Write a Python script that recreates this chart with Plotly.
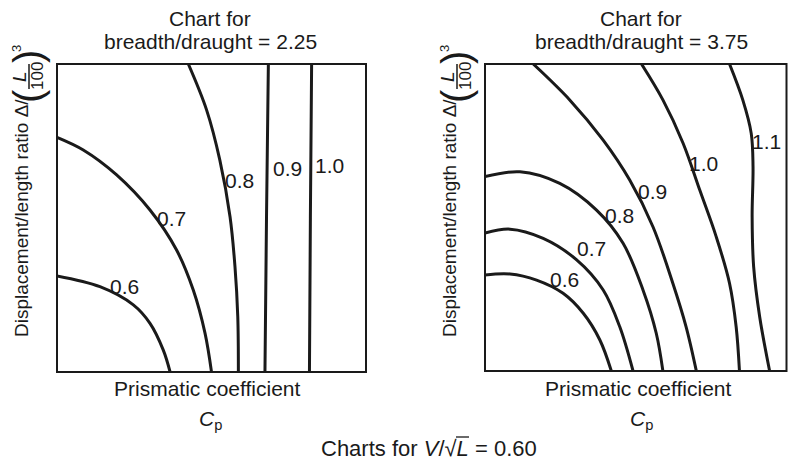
import plotly.graph_objects as go

# Figure size in pixels; layout helpers convert pixel positions to paper fractions
W, H = 788, 463
FONT = "Liberation Sans, Arial, Helvetica, sans-serif"
INK = "#1a1a1a"


def px(x):
    return x / W


def py(y):
    return 1 - y / H


# Contour values (resistance coefficient) and their curves, in normalised
# axis units: x = prismatic coefficient across the chart, y = displacement/length ratio
left_levels = ["0.6", "0.7", "0.8", "0.9", "1.0"]
left_x = [
    [0.0, 0.139, 0.247, 0.301, 0.344, 0.366],
    [0.0, 0.085, 0.193, 0.301, 0.387, 0.441, 0.479, 0.500],
    [0.425, 0.484, 0.527, 0.560, 0.576, 0.585, 0.587],
    [0.684, 0.678, 0.673],
    [0.824, 0.820, 0.817],
]
left_y = [
    [0.312, 0.277, 0.218, 0.158, 0.071, 0.0],
    [0.762, 0.721, 0.640, 0.526, 0.396, 0.266, 0.126, 0.0],
    [1.0, 0.851, 0.688, 0.504, 0.342, 0.180, 0.0],
    [1.0, 0.5, 0.0],
    [1.0, 0.5, 0.0],
]
left_label_x = [0.220, 0.371, 0.592, 0.745, 0.881]
left_label_y = [0.279, 0.499, 0.623, 0.661, 0.669]

right_levels = ["0.6", "0.7", "0.8", "0.9", "1.0", "1.1"]
right_x = [
    [0.0, 0.083, 0.171, 0.259, 0.326, 0.381, 0.419],
    [0.0, 0.083, 0.193, 0.304, 0.392, 0.447, 0.491],
    [0.0, 0.116, 0.248, 0.370, 0.458, 0.524, 0.568, 0.590],
    [0.160, 0.281, 0.392, 0.480, 0.557, 0.623, 0.667, 0.701],
    [0.519, 0.590, 0.657, 0.712, 0.767, 0.811, 0.833, 0.844],
    [0.811, 0.855, 0.883, 0.889, 0.886, 0.891, 0.911, 0.944],
]
right_y = [
    [0.313, 0.316, 0.296, 0.253, 0.188, 0.101, 0.0],
    [0.449, 0.462, 0.432, 0.362, 0.264, 0.144, 0.0],
    [0.633, 0.649, 0.611, 0.524, 0.416, 0.264, 0.123, 0.0],
    [1.0, 0.883, 0.752, 0.622, 0.470, 0.286, 0.144, 0.0],
    [1.0, 0.883, 0.742, 0.590, 0.437, 0.286, 0.144, 0.0],
    [1.0, 0.883, 0.774, 0.666, 0.503, 0.340, 0.177, 0.0],
]
right_label_x = [0.263, 0.353, 0.445, 0.555, 0.725, 0.933]
right_label_y = [0.299, 0.400, 0.508, 0.584, 0.677, 0.747]

titles = ["breadth/draught = 2.25", "breadth/draught = 3.75"]
caption_value = "0.60"

fig = go.Figure()

panels = [
    ("x", "y", left_levels, left_x, left_y, left_label_x, left_label_y),
    ("x2", "y2", right_levels, right_x, right_y, right_label_x, right_label_y),
]

annotations = []
for xa, ya, levels, xs, ys, lx, ly in panels:
    for lev, cx, cy in zip(levels, xs, ys):
        fig.add_trace(go.Scatter(
            x=cx, y=cy, mode="lines", xaxis=xa, yaxis=ya,
            line=dict(color=INK, width=3, shape="spline", smoothing=1.0),
            hoverinfo="skip", showlegend=False, name=lev,
        ))
    for lev, tx, ty in zip(levels, lx, ly):
        annotations.append(dict(
            x=tx, y=ty, xref=xa, yref=ya, text=lev, showarrow=False,
            xanchor="center", yanchor="middle",
            font=dict(family=FONT, size=21, color=INK),
        ))

axis_common = dict(range=[0, 1], showgrid=False, zeroline=False,
                   showticklabels=False, ticks="", showline=False, fixedrange=True)

# Panel frames in pixels: (left, right, top, bottom)
frames = [(57, 366, 64, 372), (485, 786.5, 64, 371)]

fig.update_layout(
    width=W, height=H,
    margin=dict(l=0, r=0, t=0, b=0),
    paper_bgcolor="white", plot_bgcolor="white",
    xaxis=dict(domain=[px(frames[0][0]), px(frames[0][1])], anchor="y", **axis_common),
    yaxis=dict(domain=[py(frames[0][3]), py(frames[0][2])], anchor="x", **axis_common),
    xaxis2=dict(domain=[px(frames[1][0]), px(frames[1][1])], anchor="y2", **axis_common),
    yaxis2=dict(domain=[py(frames[1][3]), py(frames[1][2])], anchor="x2", **axis_common),
)

shapes = []
for xa in ["x", "x2"]:
    ya = "y" if xa == "x" else "y2"
    shapes.append(dict(type="rect", xref=f"{xa} domain", yref=f"{ya} domain",
                       x0=0, x1=1, y0=0, y1=1, line=dict(color=INK, width=2)))


def note(x, y, text, size=21, angle=0):
    annotations.append(dict(
        x=px(x), y=py(y), xref="paper", yref="paper", text=text,
        showarrow=False, xanchor="center", yanchor="middle", textangle=angle,
        font=dict(family=FONT, size=size, color=INK), borderpad=0,
    ))


def rule(x0, y0, x1, y1, width=1.5):
    shapes.append(dict(type="line", xref="paper", yref="paper",
                       x0=px(x0), x1=px(x1), y0=py(y0), y1=py(y1),
                       line=dict(color=INK, width=width)))


title_cx = [210, 641]
for (l, r, t, b), title, cx in zip(frames, titles, title_cx):
    note(cx, 18, "Chart for")
    note(cx, 42, title)
    note(cx - 3, 388, "Prismatic coefficient")
    note(cx, 420, "<i>C</i><sub>p</sub>")

    # Rotated y-axis title: Displacement/length ratio Δ/(L/100)^3
    ox = l - 36
    note(ox, 218, "Displacement/length ratio \u0394/", size=19, angle=-90)
    note(ox + 7, 96, "(", size=40, angle=-90)
    note(ox + 7, 57, ")", size=40, angle=-90)
    note(ox - 1, 77, "<i>L</i>", size=19, angle=-90)
    note(ox + 17, 76, "100", size=17, angle=-90)
    note(ox - 4, 49, "3", size=13, angle=-90)
    rule(ox + 8, 64, ox + 8, 89)

note(429, 448, "Charts for <i>V</i>/\u221a<i>L</i> = " + caption_value, size=22)
# vinculum of the radical over L
rule(456, 437, 469, 437, width=1.3)

fig.update_layout(annotations=annotations, shapes=shapes)

fig.write_html("out.html")
